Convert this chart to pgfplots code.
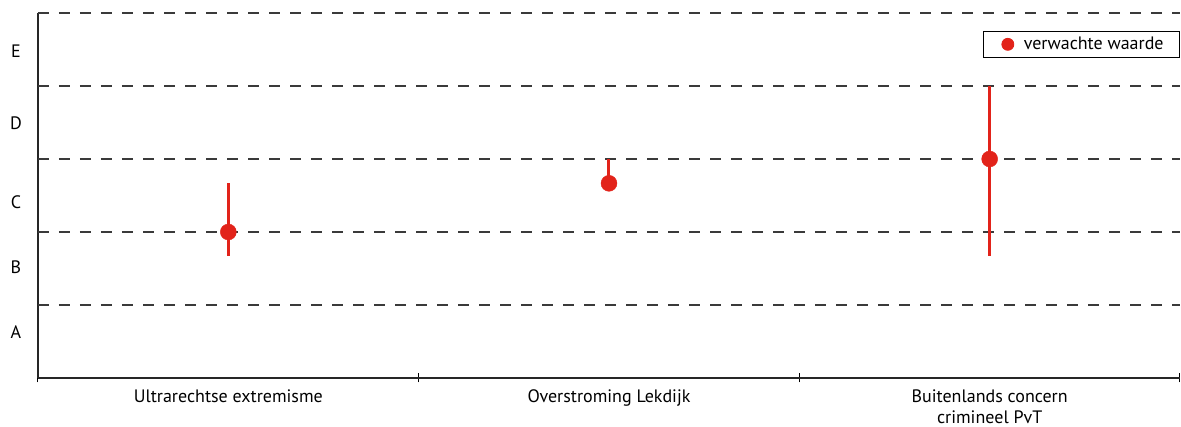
\documentclass[border=0pt]{standalone}
\usepackage{fontspec}
\setmainfont{PT Sans}
\usepackage{pgfplots}
\pgfplotsset{compat=1.18}
\definecolor{rvred}{HTML}{E2231A}
\definecolor{gridgray}{HTML}{3A3A3A}

\pgfplotstableread{
x y ep em
1 2.000 0.667 0.333
2 2.667 0.333 0.000
3 3.000 1.000 1.333
}\riskdata

\begin{document}
\begin{tikzpicture}
\useasboundingbox (-38pt,-49pt) rectangle (1143pt,378pt);
\begin{axis}[
  at={(0,0)}, anchor=south west,
  scale only axis, width=1142pt, height=365pt,
  xmin=0.5, xmax=3.5, ymin=0, ymax=5,
  axis x line=bottom, axis y line=left,
  axis line style={-, line width=1.2pt, black!85},
  font=\fontsize{18}{21}\selectfont,
  xtick={1,2,3},
  xticklabels={Ultrarechtse extremisme, Overstroming Lekdijk, {Buitenlands concern\\crimineel PvT}},
  xticklabel style={align=center, anchor=north, yshift=-8pt},
  minor xtick={0.5,1.5,2.5,3.5},
  major tick length=0pt, minor tick length=9pt, tick align=center,
  minor tick style={line width=1pt, black},
  ytick={0.63,1.52,2.41,3.49,4.47},
  yticklabels={A,B,C,D,E},
  yticklabel style={anchor=center, xshift=-22pt},
  extra y ticks={1,2,3,4,5},
  extra y tick labels={},
  extra y tick style={grid=major, major grid style={gridgray, line width=1.2pt, dash pattern=on 11pt off 10pt}},
  clip=false,
  legend style={at={(1,0.951)}, anchor=north east, draw=black, line width=0.8pt,
    font=\fontsize{18}{22}\selectfont, inner xsep=14pt, inner ysep=4pt},
  legend image code/.code={\path[draw=none] (0,-1pt) rectangle (24pt,1pt); \fill[rvred] (10pt,0) circle (6pt);},
]
\addplot[only marks, mark=*, mark size=8pt, color=rvred,
  error bars/.cd, y dir=both, y explicit, error mark=none,
  error bar style={line width=3pt, rvred}]
  table[x=x, y=y, y error plus=ep, y error minus=em] {\riskdata};
\addlegendentry{verwachte waarde}
\end{axis}
\end{tikzpicture}
\end{document}
